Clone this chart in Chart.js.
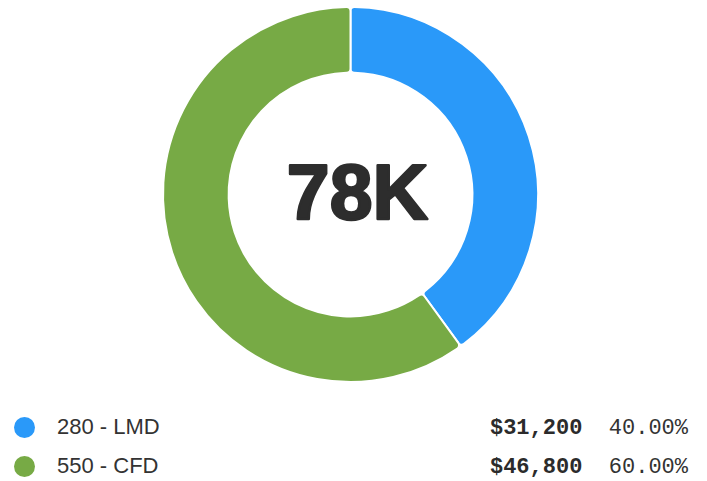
<!DOCTYPE html>
<html>
<head>
<meta charset="utf-8">
<script src="https://cdn.jsdelivr.net/npm/chart.js@4.4.1/dist/chart.umd.min.js"></script>
<style>
    html, body { margin: 0; padding: 0; background: #fff; }
    body { width: 707px; height: 481px; overflow: hidden; font-family: "Liberation Sans", Arial, sans-serif; }
    .chart-box { position: relative; width: 707px; height: 389px; }
    .legend { position: absolute; left: 0; top: 407px; width: 707px; }
    .row { position: relative; height: 39px; }
    .dot { position: absolute; left: 14px; top: 10px; width: 21px; height: 21px; border-radius: 50%; }
    .name { position: absolute; left: 57px; top: 7px; font-size: 22px; color: #333; }
    .vals { position: absolute; right: 19px; top: 9px; font-family: "Liberation Mono", monospace; font-size: 22px; color: #333; white-space: pre; }
    .vals b { color: #2b2b2b; }
</style>
</head>
<body>
<div class="chart-box"><canvas id="donut"></canvas></div>
<div class="legend" id="legend"></div>
<script>
// Chart data
const labels = ['280 - LMD', '550 - CFD'];
const values = [31200, 46800];
const colors = ['#2a99f9', '#77aa45'];
const centerLabel = '78K';

// Format currency values
function formatCurrency(value) {
    return '$' + new Intl.NumberFormat('en-US').format(value);
}

// Center text plugin
const centerText = {
    id: 'centerText',
    afterDraw(chart) {
        const meta = chart.getDatasetMeta(0);
        if (!meta.data.length) return;
        const arc = meta.data[0];
        const ctx = chart.ctx;
        ctx.save();
        ctx.font = 'bold 77px "Liberation Sans", Arial, sans-serif';
        ctx.fillStyle = '#2d2d2d';
        ctx.strokeStyle = '#2d2d2d';
        ctx.lineWidth = 2.5;
        ctx.lineJoin = 'round';
        ctx.textAlign = 'center';
        ctx.textBaseline = 'middle';
        ctx.fillText(centerLabel, arc.x + 7, arc.y + 3);
        ctx.strokeText(centerLabel, arc.x + 7, arc.y + 3);
        ctx.restore();
    }
};

const ctx = document.getElementById('donut').getContext('2d');
new Chart(ctx, {
    type: 'doughnut',
    data: {
        labels: labels,
        datasets: [{
            data: values,
            backgroundColor: colors,
            borderColor: '#ffffff',
            borderWidth: 2,
            borderRadius: 4
        }]
    },
    options: {
        responsive: true,
        maintainAspectRatio: false,
        animation: false,
        cutout: '65%',
        layout: { padding: { top: 6, bottom: 6, left: 3, right: 9 } },
        plugins: {
            legend: { display: false },
            tooltip: { enabled: false }
        }
    },
    plugins: [centerText]
});

// Build legend rows
const total = values.reduce((a, b) => a + b, 0);
let html = '';
labels.forEach((label, i) => {
    const pct = (values[i] / total * 100).toFixed(2) + '%';
    html += `
        <div class="row">
            <div class="dot" style="background:${colors[i]}"></div>
            <div class="name">${label}</div>
            <div class="vals"><b>${formatCurrency(values[i])}</b>  ${pct}</div>
        </div>`;
});
document.getElementById('legend').innerHTML = html;
</script>
</body>
</html>
